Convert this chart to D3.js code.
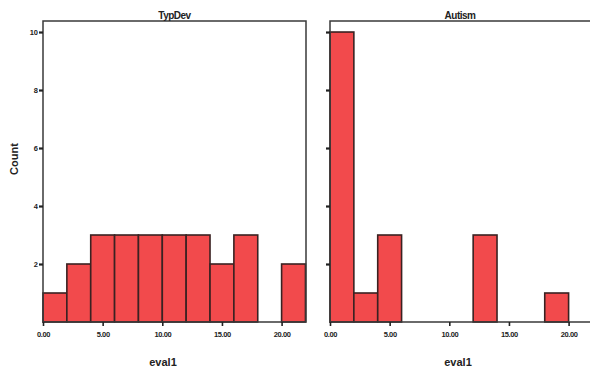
<!DOCTYPE html>
<html>
<head>
<meta charset="utf-8">
<script src="https://cdn.jsdelivr.net/npm/d3@7"></script>
<style>
  body { margin: 0; background: #fff; }
  svg { display: block; font-family: "Liberation Sans", Arial, sans-serif; }
</style>
</head>
<body>
<svg id="chart" width="590" height="373"></svg>
<script>
// histogram data, bins of width 2 on eval1
const binStarts = [0, 2, 4, 6, 8, 10, 12, 14, 16, 18, 20];
const typDevCounts = [1, 2, 3, 3, 3, 3, 3, 2, 3, 0, 2];
const autismCounts = [10, 1, 3, 0, 0, 0, 3, 0, 0, 1, 0];
const panelNames = ["TypDev", "Autism"];
const xTicks = [0, 5, 10, 15, 20];
const yTicks = [2, 4, 6, 8, 10];

const svg = d3.select("#chart");

const plotTop = 21, plotBottom = 322;
const panels = [
  {name: panelNames[0], counts: typDevCounts, left: 43, right: 306, labels: true},
  {name: panelNames[1], counts: autismCounts, left: 330, right: 591, labels: false}
];

const y = d3.scaleLinear().domain([0, 10.38]).range([plotBottom, plotTop]);

panels.forEach(p => {
  const x = d3.scaleLinear().domain([0, 22]).range([p.left, p.left + 22 * 11.93]);
  const g = svg.append("g");

  // bars
  const data = binStarts.map((b, i) => ({x0: b, x1: b + 2, n: p.counts[i]})).filter(d => d.n > 0);
  g.selectAll("rect").data(data).enter().append("rect")
    .attr("x", d => x(d.x0))
    .attr("y", d => y(d.n))
    .attr("width", d => x(d.x1) - x(d.x0))
    .attr("height", d => y(0) - y(d.n))
    .attr("fill", "#f24a4c")
    .attr("stroke", "#3a2222")
    .attr("stroke-width", 1.6);

  // frame
  g.append("path")
    .attr("d", p.labels
      ? `M${p.left},${plotTop}H${p.right}V${plotBottom}H${p.left}Z`
      : `M${p.right},${plotTop}H${p.left}V${plotBottom}H${p.right}`)
    .attr("fill", "none").attr("stroke", "#3a3a3a").attr("stroke-width", 1.5);

  // y axis
  const yAxis = d3.axisLeft(y).tickValues(yTicks).tickSize(4).tickFormat(p.labels ? d3.format("d") : "");
  const ya = g.append("g").attr("transform", `translate(${p.left},0)`).call(yAxis);
  ya.select(".domain").remove();
  ya.selectAll("line").attr("stroke", "#222").attr("stroke-width", 2.2);
  ya.selectAll("text").attr("font-size", 7.5).attr("font-weight", "bold").attr("fill", "#222").attr("x", -5);

  // x axis
  const xAxis = d3.axisBottom(x).tickValues(xTicks).tickSize(4).tickFormat(d3.format(".2f"));
  const xa = g.append("g").attr("transform", `translate(0,${plotBottom})`).call(xAxis);
  xa.select(".domain").remove();
  xa.selectAll("line").attr("stroke", "#222").attr("stroke-width", 1.6);
  xa.selectAll("text").attr("font-size", 7.5).attr("font-weight", "bold").attr("fill", "#222")
    .attr("letter-spacing", "-0.4").attr("y", 10);

  // panel title
  const mid = p.labels ? (p.left + p.right) / 2 : p.left + 130;
  g.append("text").attr("x", mid).attr("y", 19)
    .attr("text-anchor", "middle").attr("font-size", 10).attr("font-weight", "bold")
    .attr("letter-spacing", "-0.5").attr("fill", "#222").text(p.name);

  // x label
  g.append("text").attr("x", p.labels ? 163 : 458).attr("y", 366)
    .attr("text-anchor", "middle").attr("font-size", 11).attr("font-weight", "bold")
    .attr("fill", "#222").text("eval1");
});

// y label
svg.append("text").attr("transform", "translate(18,159) rotate(-90)")
  .attr("text-anchor", "middle").attr("font-size", 11).attr("font-weight", "bold")
  .attr("fill", "#222").text("Count");
</script>
</body>
</html>
